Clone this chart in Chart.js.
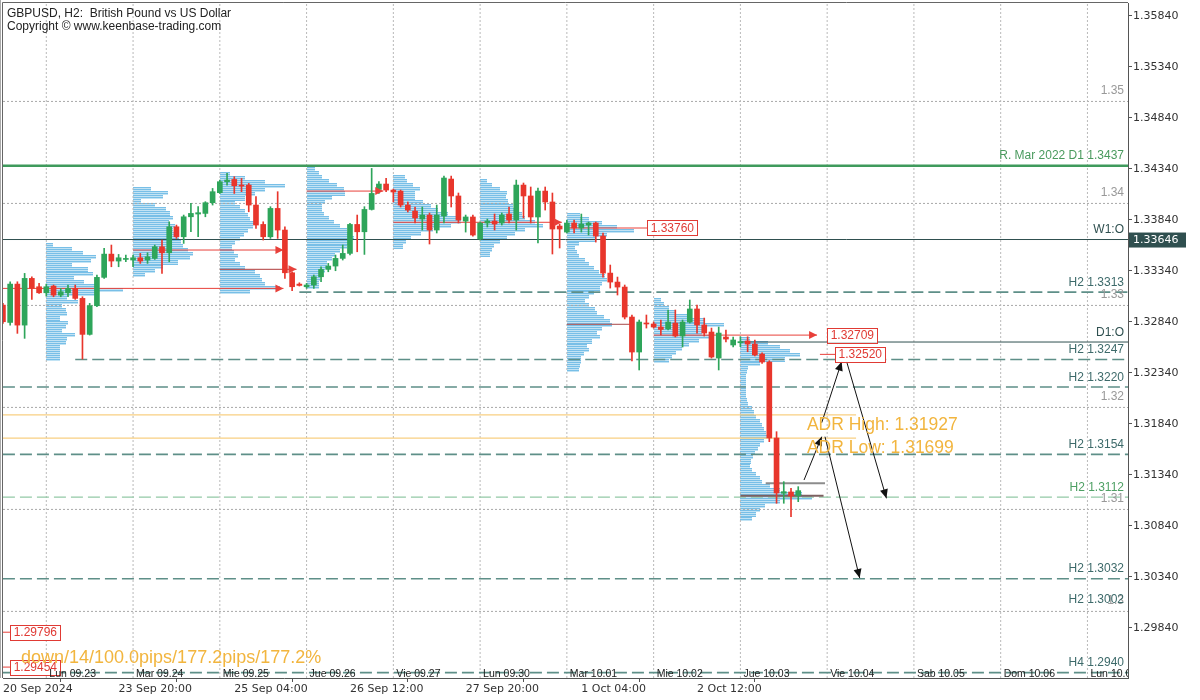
<!DOCTYPE html>
<html><head><meta charset="utf-8">
<script src="https://cdn.jsdelivr.net/npm/chart.js@4.4.1/dist/chart.umd.min.js"></script>
<style>html,body{margin:0;padding:0;background:#fff;}#wrap{width:1200px;height:700px;}</style>
</head><body><div id="wrap"><canvas id="c" width="1200" height="700"></canvas></div>
<script>
// ---------- DATA ----------
const firstBar = -6; // bar index of first candle (bars counted from Mon 23 Sep 00:00, H2)
const candleOpen  = [1.33003,1.32833,1.33209,1.32807,1.33265,1.33183,1.33124,1.33190,1.33101,1.33124,1.33167,1.33069,1.32716,1.32997,1.33275,1.33503,1.33435,1.33451,1.33445,1.33467,1.33445,1.33461,1.33575,1.33516,1.33771,1.33673,1.33869,1.33896,1.33902,1.34007,1.34105,1.34213,1.34235,1.34180,1.34180,1.33984,1.33794,1.33673,1.33951,1.33739,1.33320,1.33209,1.33183,1.33200,1.33281,1.33353,1.33386,1.33461,1.33510,1.33794,1.33722,1.33941,1.34137,1.34190,1.34131,1.34121,1.33984,1.33925,1.33847,1.33886,1.33739,1.33876,1.34239,1.34073,1.33827,1.33867,1.33651,1.33808,1.33827,1.33808,1.33896,1.33837,1.34180,1.34073,1.33867,1.34121,1.34014,1.33778,1.33719,1.33808,1.33759,1.33788,1.33808,1.33680,1.33317,1.33229,1.33180,1.32886,1.32543,1.32827,1.32818,1.32788,1.32769,1.32827,1.32700,1.32837,1.32965,1.32808,1.32739,1.32484,1.32690,1.32612,1.32634,1.32651,1.32621,1.32523,1.32445,1.31700,1.31158,1.31171,1.31134];
const candleHigh  = [1.33020,1.33232,1.33232,1.33314,1.33281,1.33216,1.33209,1.33200,1.33167,1.33200,1.33200,1.33085,1.33020,1.33298,1.33559,1.33592,1.33500,1.33494,1.33494,1.33510,1.33516,1.33592,1.33641,1.33820,1.33788,1.33886,1.34000,1.33968,1.34017,1.34147,1.34229,1.34294,1.34262,1.34245,1.34196,1.34066,1.33820,1.33968,1.34115,1.33771,1.33330,1.33222,1.33216,1.33298,1.33379,1.33412,1.33494,1.33592,1.33804,1.33886,1.33968,1.34343,1.34213,1.34245,1.34140,1.34131,1.34014,1.33965,1.33965,1.33906,1.33984,1.34268,1.34268,1.34102,1.33886,1.33886,1.33818,1.33847,1.33896,1.33906,1.33965,1.34229,1.34200,1.34161,1.34151,1.34161,1.34102,1.33798,1.33837,1.33837,1.33896,1.33818,1.33818,1.33710,1.33396,1.33278,1.33200,1.32906,1.32857,1.32906,1.32837,1.32857,1.32955,1.32955,1.32857,1.33053,1.33004,1.32876,1.32778,1.32788,1.32759,1.32690,1.32693,1.32693,1.32661,1.32536,1.32458,1.31762,1.31272,1.31207,1.31223];
const candleLow   = [1.32824,1.32807,1.32726,1.32677,1.33059,1.33118,1.33092,1.33085,1.33085,1.33085,1.33059,1.32474,1.32709,1.32987,1.33265,1.33379,1.33379,1.33428,1.33379,1.33412,1.33412,1.33451,1.33314,1.33428,1.33657,1.33608,1.33722,1.33673,1.33869,1.33984,1.34098,1.34180,1.34098,1.34115,1.33918,1.33755,1.33641,1.33657,1.33657,1.33265,1.33144,1.33190,1.33167,1.33167,1.33232,1.33330,1.33340,1.33445,1.33494,1.33526,1.33500,1.33935,1.34098,1.34115,1.34014,1.33965,1.33916,1.33808,1.33739,1.33602,1.33710,1.33808,1.33965,1.33808,1.33719,1.33680,1.33641,1.33769,1.33739,1.33788,1.33808,1.33739,1.33857,1.33808,1.33612,1.33935,1.33504,1.33563,1.33710,1.33710,1.33719,1.33690,1.33621,1.33278,1.33170,1.33102,1.32867,1.32455,1.32367,1.32778,1.32778,1.32710,1.32759,1.32690,1.32592,1.32827,1.32729,1.32700,1.32484,1.32367,1.32641,1.32592,1.32595,1.32546,1.32504,1.32432,1.31664,1.31060,1.31060,1.30929,1.31076];
const candleClose = [1.32840,1.33209,1.32807,1.33265,1.33167,1.33124,1.33183,1.33101,1.33134,1.33167,1.33069,1.32716,1.32997,1.33275,1.33503,1.33435,1.33467,1.33455,1.33467,1.33435,1.33477,1.33575,1.33516,1.33771,1.33673,1.33869,1.33902,1.33909,1.34007,1.34115,1.34213,1.34229,1.34173,1.34170,1.33984,1.33788,1.33673,1.33951,1.33739,1.33320,1.33183,1.33196,1.33200,1.33281,1.33353,1.33386,1.33461,1.33510,1.33794,1.33722,1.33941,1.34098,1.34190,1.34131,1.34112,1.33984,1.33935,1.33857,1.33886,1.33739,1.33886,1.34249,1.34073,1.33837,1.33867,1.33690,1.33808,1.33827,1.33798,1.33886,1.33837,1.34180,1.34073,1.33867,1.34121,1.34014,1.33749,1.33749,1.33808,1.33759,1.33798,1.33808,1.33680,1.33317,1.33229,1.33180,1.32886,1.32543,1.32837,1.32818,1.32788,1.32764,1.32837,1.32700,1.32837,1.32965,1.32808,1.32729,1.32494,1.32729,1.32670,1.32661,1.32645,1.32621,1.32514,1.32445,1.31700,1.31161,1.31174,1.31131,1.31184];

const xTickBars   = [-6, 10, 26, 42, 58, 74, 90];
const xTickLabels = ['20 Sep 2024','23 Sep 20:00','25 Sep 04:00','26 Sep 12:00','27 Sep 20:00','1 Oct 04:00','2 Oct 12:00'];
const yTickValues = [1.2984,1.3034,1.3084,1.3134,1.3184,1.3234,1.3284,1.3334,1.3384,1.3434,1.3484,1.3534,1.3584];
const dayStarts   = [0,12,24,36,48,60,72,84,96,108,120,132,144];
const dayLabels   = ['Lun 09.23','Mar 09.24','Mie 09.25','Jue 09.26','Vie 09.27','Lun 09.30','Mar 10.01','Mie 10.02','Jue 10.03','Vie 10.04','Sab 10.05','Dom 10.06','Lun 10.07'];
const roundLevels = [1.30,1.31,1.32,1.33,1.34,1.35];
const roundLabels = ['1.3','1.31','1.32','1.33','1.34','1.35'];

const levelPrices = [1.3437,1.33646,1.3313,1.32641,1.3247,1.3220,1.3154,1.3112,1.3032,1.2940];
const levelLabels = ['R. Mar 2022 D1 1.3437','W1:O','H2 1.3313','D1:O','H2 1.3247','H2 1.3220','H2 1.3154','H2 1.3112','H2 1.3032','H4 1.2940'];
const levelStart  = [-6,-6,35,96,4,-6,-6,-6,-6,-6];
const extraLabelPrices = [1.3002];
const extraLabels = ['H2 1.3002'];

const adrPrices = [1.31927,1.31699];
const adrLabels = ['ADR High: 1.31927','ADR Low: 1.31699'];
const adrEnd = 112;
const lastPrice = 1.33646;
const statsText = 'down/14/100.0pips/177.2pips/177.2%';

// naked POC lines (price, from bar, to bar, arrow)
const pocPrices = [1.33167,1.33543,1.33354,1.34121,1.33815,1.33759,1.32709];
const pocFrom   = [-6,12,24,36,48,72,84];
const pocTo     = [32.8,32.8,34.6,46.6,71.3,83.1,106.6];
const pocArrow  = [true,true,true,true,true,false,true];
// secondary profile lines
const extraLinePrices = [1.32815,1.31134,1.31256,1.32520,1.29796,1.29454];
const extraLineFrom   = [72,96,99.5,107,-6,-6];
const extraLineTo     = [81.2,107.5,107.7,109.1,-5.0,-5.0];
// price boxes
const boxPrices = [1.33760,1.32709,1.32520,1.29796,1.29454];
const boxBars   = [83.1,108.0,109.1,-5.0,-5.0];
// drawn arrows [bar, price] -> [bar, price]
const arrowFromBar = [104.8,107.25,110.7,107.7];
const arrowFromPx  = [1.31288,1.31850,1.32448,1.31713];
const arrowToBar   = [107.25,110.0,116.2,112.5];
const arrowToPx    = [1.31713,1.32448,1.31109,1.30327];

// volume profiles per day (start bar, top price, volume per 0.0004 step)
const profStart = [0,12,24,36,48,60,72,84,96];
const profTop   = [1.33612,1.34161,1.34308,1.34357,1.34278,1.34239,1.33906,1.33072,1.32690];
const profStep  = 0.0004;
const prof0 = [7,26,37,50,45,26,42,47,28,38,53,77,50,21,32,16,20,21,14,22,20,16,29,21,20,14,14,14,14];
const prof1 = [18,35,30,8,22,33,37,40,36,42,40,45,46,48,50,55,60,57,45,30,22,12];
const prof2 = [10,25,45,65,45,35,25,15,20,25,28,30,35,33,28,24,20,15,12,14,18,15,20,25,35,40,42,45,60,30];
const prof3 = [8,12,15,22,30,37,38,25,18,15,15,17,22,27,33,40,45,47,45,40,33,28,25,20,20,18,15,13,12,12];
const prof4 = [12,14,20,27,22,22,30,38,45,55,63,68,58,40,28,18,13,10];
const prof5 = [7,12,20,27,26,28,33,38,42,45,55,63,45,35,27,20,14,12,10];
const prof6 = [13,22,35,50,67,40,28,12,8,10,12,18,22,27,32,38,40,35,33,27,22,18,22,28,30,37,43,45,35,30,33,25,20,22,17,14,14,13,12];
const prof7 = [7,10,15,22,38,50,70,52,48,55,45,35,28,22,18,15];
const prof8 = [10,28,40,50,60,45,20,8,7,6,6,6,6,6,6,7,8,12,14,16,20,22,24,26,27,24,20,18,15,13,11,10,12,16,20,22,30,40,62,72,40,25,20,16,12];
const profiles = [prof0,prof1,prof2,prof3,prof4,prof5,prof6,prof7,prof8];
const volPerBar = 7.23; // volume units that span one bar width

// ---------- STYLE ----------
const xMin = -5.99, xMax = 149.61, yMin = 1.29347, yMax = 1.35965;
const UP = '#2ea55a', DOWN = '#e8362c';
const levelColor = ['#3f9a5c','#2f4f4f','#5e8f88','#2f4f4f','#5e8f88','#5e8f88','#5e8f88','#93c9a6','#5e8f88','#5e8f88'];
const levelWidth = [2.5,1,1.6,1,1.6,1.6,1.6,1.4,1.6,1.6];
const levelDashed= [false,false,true,false,true,true,true,true,true,true];
const labelColor = ['#4a9a5e','#2f5050','#3d6a6a','#2f5050','#3d6a6a','#3d6a6a','#3d6a6a','#4ea064','#3d6a6a','#3d6a6a'];
const extraLineColor = ['#a84848','#7d6060','#8c8c8c','#e8403a','#e8403a','#e8403a'];
const extraLineWidth = [1,2,2,1,1,1];
const LBL = '12px "Liberation Sans", Arial, sans-serif';

const bars = candleOpen.map((_, i) => firstBar + i);
const up = i => candleClose[i] >= candleOpen[i];

const datasets = [];
datasets.push({type:'bar', data: bars.map((k,i)=>({x:k, y:[candleLow[i], candleHigh[i]]})),
  backgroundColor: bars.map((k,i)=> up(i)?UP:DOWN), barThickness:1, grouped:false, order:1});
datasets.push({type:'bar', data: bars.map((k,i)=>({x:k, y:[Math.min(candleOpen[i],candleClose[i]), Math.max(candleOpen[i],candleClose[i])]})),
  backgroundColor: bars.map((k,i)=> up(i)?UP:DOWN), barThickness:5, minBarLength:1, grouped:false, order:0});

function lineDs(points, color, width, dash, order){
  return {type:'line', data: points, borderColor: color, borderWidth: width, borderDash: dash||[],
    pointRadius:0, fill:false, tension:0, spanGaps:false, order: order===undefined?5:order};
}
// day separators
const sepPts = [];
dayStarts.forEach(k => { sepPts.push({x:k,y:yMin},{x:k,y:yMax},{x:k,y:null}); });
datasets.push(lineDs(sepPts,'#b9b9b9',1,[2,2],9));
// round levels
roundLevels.forEach(p => datasets.push(lineDs([{x:xMin,y:p},{x:xMax,y:p}],'#a8a8a8',1,[2,2],9)));
// ADR lines
adrPrices.forEach(p => datasets.push(lineDs([{x:xMin,y:p},{x:adrEnd,y:p}],'#f8cf82',1.3,[],8)));
// levels
levelPrices.forEach((p,i) => datasets.push(lineDs([{x:levelStart[i],y:p},{x:xMax,y:p}], levelColor[i], levelWidth[i], levelDashed[i]?[12,5]:[], 7)));
// POC lines
pocPrices.forEach((p,i) => datasets.push(lineDs([{x:pocFrom[i],y:p},{x:pocTo[i],y:p}], i===2?'#b03a3a':'#e8403a', 1, [], 4)));
extraLinePrices.forEach((p,i) => datasets.push(lineDs([{x:extraLineFrom[i],y:p},{x:extraLineTo[i],y:p}], extraLineColor[i], extraLineWidth[i], [], 4)));
// arrows
arrowFromBar.forEach((b,i) => datasets.push(lineDs([{x:b,y:arrowFromPx[i]},{x:arrowToBar[i],y:arrowToPx[i]}],'#111',1,[],2)));

const overlay = {
  id:'overlay',
  beforeDraw(chart){ const c=chart.ctx; c.save(); c.fillStyle='#fff'; c.fillRect(0,0,chart.width,chart.height); c.restore(); },
  beforeDatasetsDraw(chart){
    const c=chart.ctx, xs=chart.scales.x, ys=chart.scales.y, a=chart.chartArea;
    c.save(); c.beginPath(); c.rect(a.left,a.top,a.right-a.left,a.bottom-a.top); c.clip();
    profiles.forEach((vals,d)=>{
      const x0 = Math.round(xs.getPixelForValue(profStart[d]));
      vals.forEach((v,i)=>{
        const pTop = profTop[d]-i*profStep;
        const yT = Math.round(ys.getPixelForValue(pTop)), yB = Math.round(ys.getPixelForValue(pTop-profStep));
        const w = Math.round(xs.getPixelForValue(profStart[d]+v/volPerBar)-x0);
        c.fillStyle='#c2e3f4'; c.fillRect(x0, yT, w, yB-yT);
        c.fillStyle='#78bfe7';
        for(let y=yT; y<yB; y+=2){ c.fillRect(x0, y, w, 1); }
      });
    });
    c.restore();
  },
  afterDatasetsDraw(chart){
    const c=chart.ctx, xs=chart.scales.x, ys=chart.scales.y, a=chart.chartArea;
    c.save(); c.beginPath(); c.rect(a.left,a.top,a.right-a.left,a.bottom-a.top); c.clip();
    // POC arrowheads
    c.fillStyle='#e8403a';
    pocPrices.forEach((p,i)=>{ if(!pocArrow[i]) return;
      const x=xs.getPixelForValue(pocTo[i]), y=ys.getPixelForValue(p);
      c.beginPath(); c.moveTo(x,y); c.lineTo(x-8,y-4); c.lineTo(x-8,y+4); c.closePath(); c.fill(); });
    // drawn arrow heads
    c.fillStyle='#111';
    arrowFromBar.forEach((b,i)=>{
      const x1=xs.getPixelForValue(b), y1=ys.getPixelForValue(arrowFromPx[i]);
      const x2=xs.getPixelForValue(arrowToBar[i]), y2=ys.getPixelForValue(arrowToPx[i]);
      const ang=Math.atan2(y2-y1,x2-x1), L=9, W=4;
      c.beginPath(); c.moveTo(x2,y2);
      c.lineTo(x2-L*Math.cos(ang)+W*Math.sin(ang), y2-L*Math.sin(ang)-W*Math.cos(ang));
      c.lineTo(x2-L*Math.cos(ang)-W*Math.sin(ang), y2-L*Math.sin(ang)+W*Math.cos(ang));
      c.closePath(); c.fill();
    });
    // price boxes
    c.font=LBL; c.textBaseline='middle'; c.textAlign='left';
    boxPrices.forEach((p,i)=>{
      const t=p.toFixed(5), x=xs.getPixelForValue(boxBars[i]), y=ys.getPixelForValue(p);
      const w=c.measureText(t).width+7;
      c.fillStyle='#fff'; c.fillRect(x,y-7.5,w,15);
      c.strokeStyle='#e03a34'; c.lineWidth=1; c.strokeRect(Math.round(x)+0.5,Math.round(y-7.5)+0.5,Math.round(w),15);
      c.fillStyle='#e03a34'; c.fillText(t,x+3.5,y+0.5);
    });
    // right-side labels
    c.textAlign='right'; c.textBaseline='alphabetic';
    roundLevels.forEach((p,i)=>{ c.fillStyle='#999'; c.fillText(roundLabels[i], a.right-4, ys.getPixelForValue(p)-7); });
    levelPrices.forEach((p,i)=>{ c.fillStyle=labelColor[i]; c.fillText(levelLabels[i], a.right-4, ys.getPixelForValue(p)-6.5); });
    extraLabelPrices.forEach((p,i)=>{ c.fillStyle='#3d6a6a'; c.fillText(extraLabels[i], a.right-4, ys.getPixelForValue(p)-6.5); });
    // ADR texts
    c.textAlign='left'; c.font='17.5px "Liberation Sans", Arial, sans-serif'; c.fillStyle='#f2b53e';
    adrPrices.forEach((p,i)=>{ c.fillText(adrLabels[i], xs.getPixelForValue(105.2), ys.getPixelForValue(p)+15); });
    c.font='18px "Liberation Sans", Arial, sans-serif';
    c.fillText(statsText, 21, 663);
    // day labels
    c.font='10.5px "Liberation Sans", Arial, sans-serif'; c.fillStyle='#222';
    dayStarts.forEach((k,i)=>{ c.fillText(dayLabels[i], xs.getPixelForValue(k)+3, a.bottom-1); });
    c.restore();
  },
  afterDraw(chart){
    const c=chart.ctx, ys=chart.scales.y, a=chart.chartArea;
    c.save();
    c.strokeStyle='#666'; c.lineWidth=1;
    c.beginPath(); c.moveTo(a.left-0.5,a.bottom); c.lineTo(a.left-0.5,a.top-0.5); c.lineTo(a.right,a.top-0.5); c.stroke();
    c.strokeStyle='#aaa'; c.beginPath(); c.moveTo(0.5,0); c.lineTo(0.5,a.bottom); c.stroke();
    // last price label
    const y=ys.getPixelForValue(lastPrice);
    c.fillStyle='#2f4f4f'; c.fillRect(a.right+1,y-7,57,15);
    c.fillStyle='#fff'; c.font='11px "DejaVu Sans", sans-serif'; c.textBaseline='middle'; c.textAlign='left';
    c.fillText(lastPrice.toFixed(5), a.right+5, y+0.5);
    // title
    c.fillStyle='#222'; c.font=LBL; c.textBaseline='alphabetic';
    c.fillText('GBPUSD, H2:  British Pound vs US Dollar', 7, 17);
    c.fillText('Copyright \u00A9 www.keenbase-trading.com', 7, 30);
    c.restore();
  }
};

new Chart(document.getElementById('c'), {
  type:'bar',
  data:{datasets},
  options:{
    responsive:false, animation:false, devicePixelRatio:1, events:[],
    layout:{padding:{left:3,top:3,right:0,bottom:0}},
    plugins:{legend:{display:false}, tooltip:{enabled:false}},
    scales:{
      x:{type:'linear', min:xMin, max:xMax, offset:false, position:'bottom',
        afterBuildTicks: s => { s.ticks = xTickBars.map(v=>({value:v})); },
        afterFit: s => { s.height = 22; s.paddingLeft = 0; s.paddingRight = 0; },
        grid:{drawOnChartArea:false, drawTicks:true, tickLength:4, color:'#555'},
        border:{display:true, color:'#555'},
        ticks:{autoSkip:false, maxRotation:0, minRotation:0, align:'start', padding:1, color:'#333',
          font:{family:'DejaVu Sans', size:11}, callback:(v,i)=>xTickLabels[i]}
      },
      y:{type:'linear', position:'right', min:yMin, max:yMax,
        afterBuildTicks: s => { s.ticks = yTickValues.map(v=>({value:v})); },
        afterFit: s => { s.width = 72; s.paddingTop = 0; s.paddingBottom = 0; },
        grid:{drawOnChartArea:false, drawTicks:true, tickLength:4, color:'#555'},
        border:{display:true, color:'#555'},
        ticks:{padding:1, color:'#333', font:{family:'DejaVu Sans', size:11}, callback:v=>Number(v).toFixed(5)}
      }
    }
  },
  plugins:[overlay]
});
</script>
</body></html>
